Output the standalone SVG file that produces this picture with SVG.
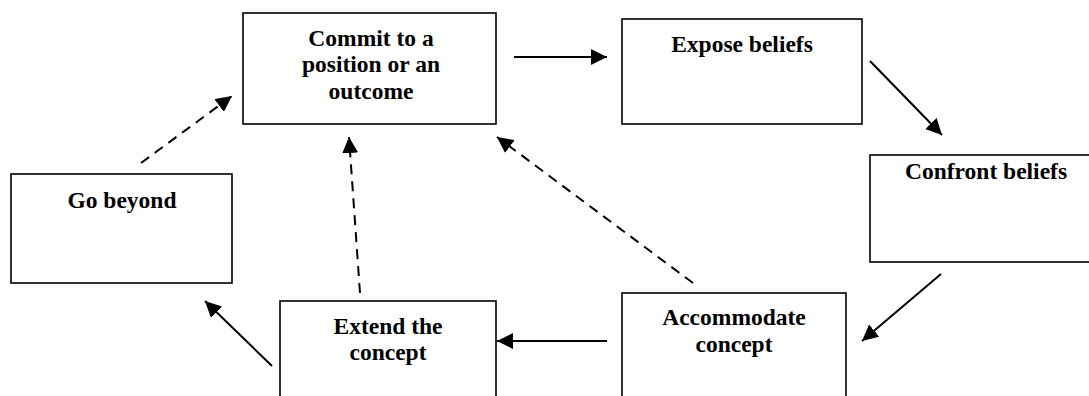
<svg xmlns="http://www.w3.org/2000/svg" width="1089" height="396" viewBox="0 0 1089 396">
<style>
.box{fill:#fff;stroke:#000;stroke-width:1.6}
.lbl{font-family:"Liberation Serif","Times New Roman",serif;font-weight:bold;font-size:23.5px;text-anchor:middle;fill:#000}
.c{stroke:#000;stroke-width:2;fill:none}
.d{stroke-dasharray:10 7}
</style>
<defs>
<marker id="ah" markerUnits="userSpaceOnUse" markerWidth="16" markerHeight="16" refX="16" refY="8" orient="auto" viewBox="0 0 16 16">
<path d="M0,0 L16,8 L0,16 z" fill="#000"/>
</marker>
</defs>
<rect width="1089" height="396" fill="#fff"/>
<g id="commit"><rect class="box" x="243" y="13" width="253" height="111"/>
<text class="lbl" x="371" y="46">Commit to a</text>
<text class="lbl" x="371" y="72">position or an</text>
<text class="lbl" x="371" y="99">outcome</text></g>
<g id="expose"><rect class="box" x="622" y="19" width="240" height="105"/>
<text class="lbl" x="742" y="52">Expose beliefs</text></g>
<g id="confront"><rect class="box" x="870" y="155" width="232" height="107"/>
<text class="lbl" x="986" y="179">Confront beliefs</text></g>
<g id="accommodate"><rect class="box" x="622" y="293" width="224" height="120"/>
<text class="lbl" x="734" y="325">Accommodate</text>
<text class="lbl" x="734" y="352">concept</text></g>
<g id="extend"><rect class="box" x="280" y="301" width="216" height="120"/>
<text class="lbl" x="388" y="334">Extend the</text>
<text class="lbl" x="388" y="360">concept</text></g>
<g id="gobeyond"><rect class="box" x="11" y="174" width="221" height="109"/>
<text class="lbl" x="122" y="208">Go beyond</text></g>
<g id="connectors">
<line class="c" x1="514" y1="57" x2="607" y2="57" marker-end="url(#ah)"/>
<line class="c" x1="870" y1="61" x2="942" y2="135" marker-end="url(#ah)"/>
<line class="c" x1="941" y1="274" x2="862" y2="341" marker-end="url(#ah)"/>
<line class="c" x1="607" y1="341" x2="497" y2="341" marker-end="url(#ah)"/>
<line class="c" x1="272" y1="366" x2="205" y2="301" marker-end="url(#ah)"/>
<line class="c d" x1="141" y1="163" x2="232" y2="96" marker-end="url(#ah)"/>
<line class="c d" x1="360" y1="293" x2="349" y2="137" marker-end="url(#ah)"/>
<line class="c d" x1="693" y1="283" x2="497" y2="137" marker-end="url(#ah)"/>
</g>
</svg>
